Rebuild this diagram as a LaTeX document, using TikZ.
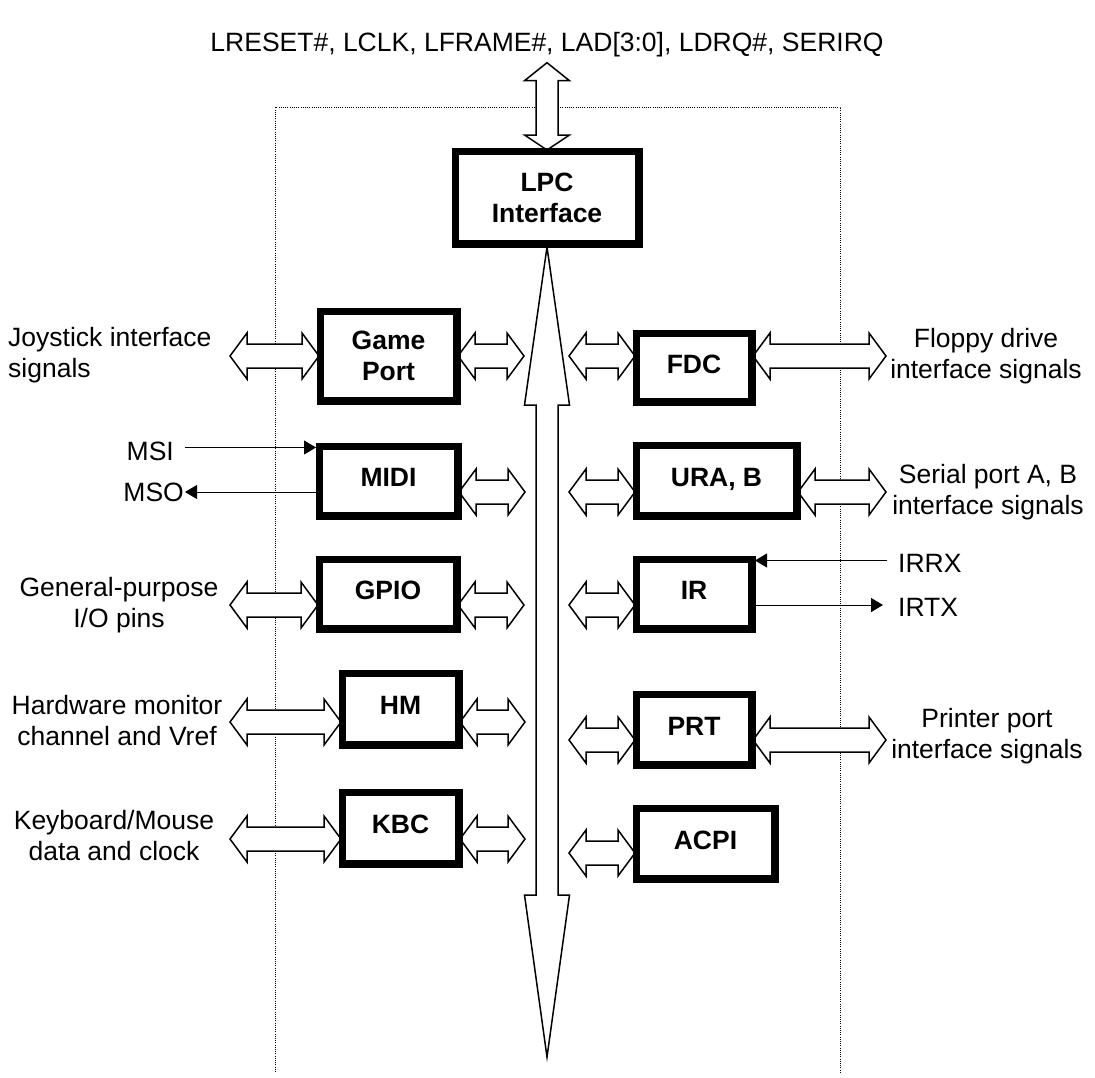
\documentclass[tikz,border=0pt]{standalone}
\usepackage{fontspec}
\setmainfont{Liberation Sans}
\usetikzlibrary{arrows.meta,calc}
\newcommand\lblfont{\fontsize{26.5}{31}\selectfont}
\newcommand\hfat[2]{\path[fat] let \p1=#1, \p2=#2 in (\x1,\y1) -- (\x1+17pt,\y1+23pt) -- (\x1+17pt,\y1+12pt) -- (\x2-17pt,\y1+12pt) -- (\x2-17pt,\y1+23pt) -- (\x2,\y1) -- (\x2-17pt,\y1-23pt) -- (\x2-17pt,\y1-12pt) -- (\x1+17pt,\y1-12pt) -- (\x1+17pt,\y1-23pt) -- cycle;}
\newcommand\vfat[4]{\path[fat] let \p1=#1, \p2=#2 in (\x1,\y1) -- (\x1+22.5pt,\y1-#3) -- (\x1+11pt,\y1-#3) -- (\x1+11pt,\y2+#4) -- (\x1+22.5pt,\y2+#4) -- (\x1,\y2) -- (\x1-22.5pt,\y2+#4) -- (\x1-11pt,\y2+#4) -- (\x1-11pt,\y1-#3) -- (\x1-22.5pt,\y1-#3) -- cycle;}
\begin{document}
\begin{tikzpicture}[x=1pt,y=-1pt,
  fat/.style={draw,fill=white,line width=1.5pt,line join=miter},
  box/.style={draw,line width=5pt,fill=white,font=\lblfont\bfseries,align=center,inner sep=0pt},
  box1/.style={box,text height=19pt,text depth=8pt},
  lab/.style={inner sep=0pt,font=\lblfont,align=center},
  sig/.style={line width=1pt,-{Triangle[length=12pt,width=14pt]}},
  dotbox/.style={line width=1pt,dash pattern=on 1pt off 1.2pt}]
\useasboundingbox (0,0) rectangle (1095,1077);
% enclosure
\draw[dotbox] (275.5,1072) -- (275.5,107) -- (840.5,107) -- (840.5,1072);
% title
\node[lab] (title) at (547,45) {LRESET\#, LCLK, LFRAME\#, LAD[3:0], LDRQ\#, SERIRQ};
% coordinates
\coordinate (ltop) at (547,62.7);
\coordinate (bustop) at (547,247);
\coordinate (busbot) at (547,1057);
\coordinate (gpl) at (230,356);  \coordinate (gpr) at (524,356);
\coordinate (midir) at (525,492);
\coordinate (gpiol) at (230,605); \coordinate (gpior) at (524,605);
\coordinate (hml) at (230,722);  \coordinate (hmr) at (525,722);
\coordinate (kbcl) at (230,839); \coordinate (kbcr) at (525,839);
\coordinate (fdcl) at (569,356); \coordinate (fdcr) at (886,356);
\coordinate (ural) at (569,492); \coordinate (urar) at (886,492);
\coordinate (irl) at (569,605);
\coordinate (prtl) at (569,740); \coordinate (prtr) at (886,740);
\coordinate (acpil) at (569,853);
\coordinate (msiS) at (185,447.5);
\coordinate (msoE) at (185,492);
\coordinate (irrxS) at (887,560.5);
\coordinate (irtxE) at (883,605);
% boxes
\node[box,minimum width=181pt,minimum height=90pt] (lpc) at (547,197.5) {LPC\\Interface};
\node[box,minimum width=134pt,minimum height=87pt] (gp) at (388.5,356) {Game\\Port};
\node[box1,minimum width=136pt,minimum height=67pt] (midi) at (388.5,481) {MIDI};
\node[box1,minimum width=135pt,minimum height=67pt] (gpio) at (388,594) {GPIO};
\node[box1,minimum width=114pt,minimum height=69pt] (hm) at (400.5,709) {HM};
\node[box1,minimum width=114pt,minimum height=69pt] (kbc) at (400.5,828) {KBC};
\node[box1,minimum width=113pt,minimum height=66pt] (fdc) at (694,367.5) {FDC};
\node[box1,minimum width=158pt,minimum height=68pt] (ura) at (716.5,480.5) {URA, B};
\node[box1,minimum width=113pt,minimum height=67pt] (ir) at (694,594) {IR};
\node[box1,minimum width=113pt,minimum height=68pt] (prt) at (694,729.5) {PRT};
\node[box1,minimum width=136pt,minimum height=68pt] (acpi) at (705.5,843.5) {ACPI};
% fat arrows
\vfat{(ltop)}{(lpc.north)}{18pt}{15pt}
\vfat{(bustop)}{(busbot)}{158pt}{162pt}
\hfat{(gpl)}{(gp.west|-gpl)}
\hfat{(gp.east|-gpr)}{(gpr)}
\hfat{(midi.east|-midir)}{(midir)}
\hfat{(gpiol)}{(gpio.west|-gpiol)}
\hfat{(gpio.east|-gpior)}{(gpior)}
\hfat{(hml)}{(hm.west|-hml)}
\hfat{(hm.east|-hmr)}{(hmr)}
\hfat{(kbcl)}{(kbc.west|-kbcl)}
\hfat{(kbc.east|-kbcr)}{(kbcr)}
\hfat{(fdcl)}{(fdc.west|-fdcl)}
\hfat{(fdc.east|-fdcr)}{(fdcr)}
\hfat{(ural)}{(ura.west|-ural)}
\hfat{(ura.east|-urar)}{(urar)}
\hfat{(irl)}{(ir.west|-irl)}
\hfat{(prtl)}{(prt.west|-prtl)}
\hfat{(prt.east|-prtr)}{(prtr)}
\hfat{(acpil)}{(acpi.west|-acpil)}
% redraw boxes on top
\foreach \n in {lpc,gp,midi,gpio,hm,kbc,fdc,ura,ir,prt,acpi}{\draw[line width=5pt] (\n.north west) rectangle (\n.south east);}
% signal lines
\draw[sig,shorten >=2pt] (msiS) -- (midi.north west|-msiS);
\draw[sig] (midi.west|-msoE) -- (msoE);
\draw[sig,shorten >=2pt] (irrxS) -- (ir.north east|-irrxS);
\draw[sig] (ir.east|-irtxE) -- (irtxE);
% labels
\node[lab,align=left,anchor=west] (joy) at (8,355) {Joystick interface\\signals};
\node[lab,anchor=east] (msi) at (174,451) {MSI};
\node[lab,anchor=east] (mso) at (184,492) {MSO};
\node[lab] (gpiolab) at (119,605) {General-purpose\\I/O pins};
\node[lab] (hmlab) at (117,721) {Hardware monitor\\channel and Vref};
\node[lab] (kbclab) at (114,836) {Keyboard/Mouse\\data and clock};
\node[lab] (fdclab) at (986,356) {Floppy drive\\interface signals};
\node[lab] (uralab) at (988,492) {Serial port A, B\\interface signals};
\node[lab,anchor=west] (irrx) at (898,563) {IRRX};
\node[lab,anchor=west] (irtx) at (898,607) {IRTX};
\node[lab] (prtlab) at (987,736) {Printer port\\interface signals};
\end{tikzpicture}
\end{document}
